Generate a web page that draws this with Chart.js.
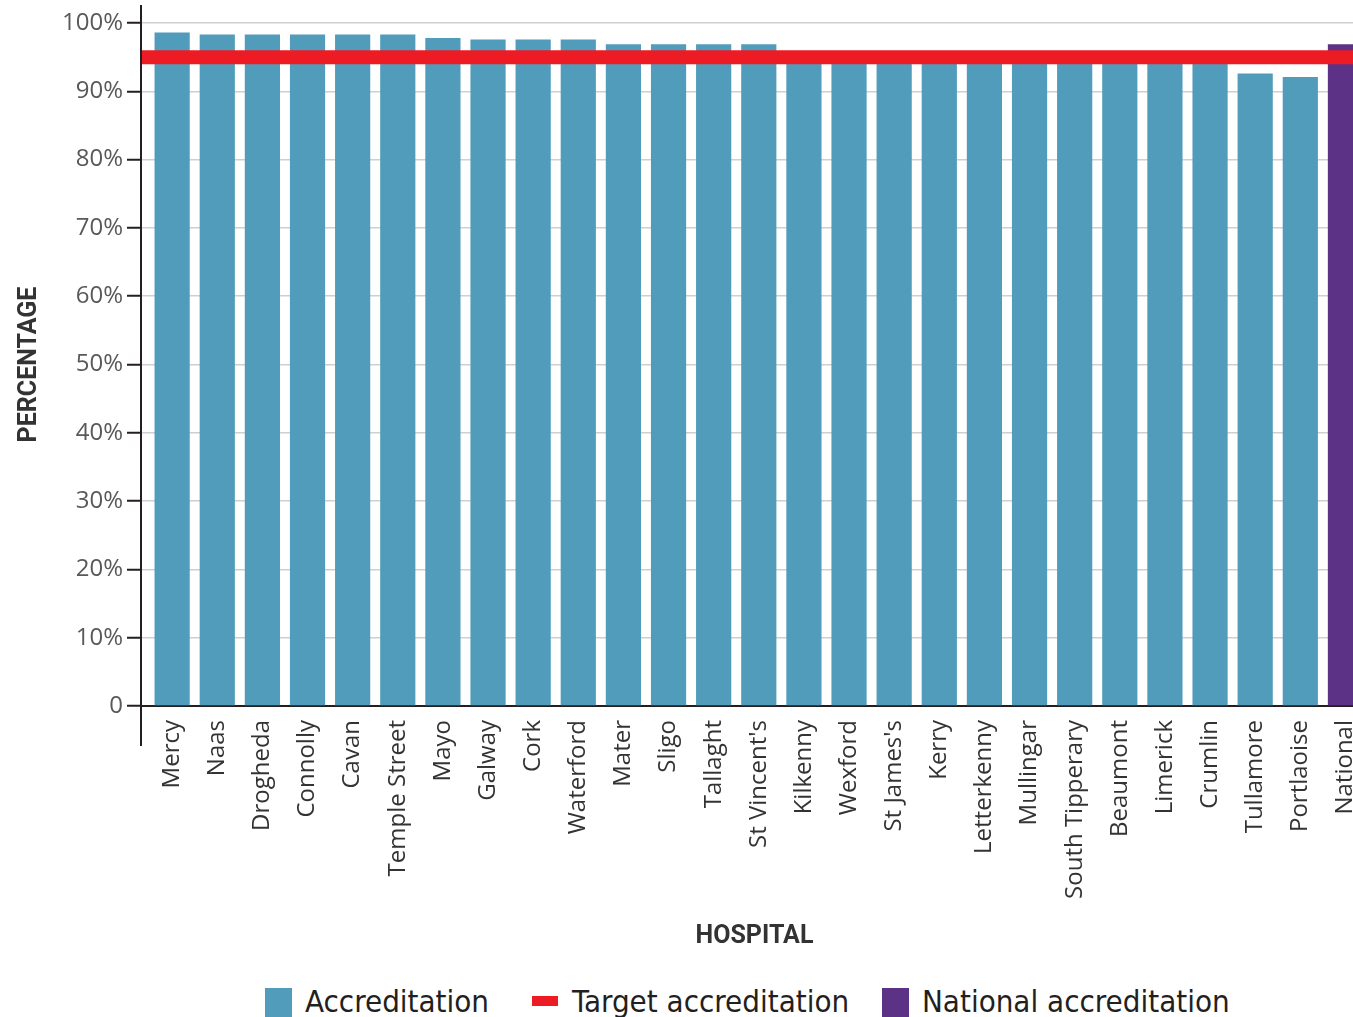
<!DOCTYPE html>
<html>
<head>
<meta charset="utf-8">
<script src="https://cdn.jsdelivr.net/npm/chart.js@4.4.1/dist/chart.umd.min.js"></script>
<style>
  html, body { margin: 0; padding: 0; background: #fff; overflow: hidden; }
  #wrap { position: absolute; left: 0; top: 0; width: 1368px; height: 960px; }
  .leg { position: absolute; top: 984px; height: 34px; font-family: "Liberation Sans Narrow", "DejaVu Sans Condensed", "Roboto", sans-serif; font-size: 31px; color: #231f20; line-height: 34px; white-space: nowrap; }
  .sw { position: absolute; }
</style>
</head>
<body>
<div id="wrap"><canvas id="chart"></canvas></div>
<div class="leg" style="left:265px"><span class="sw" style="left:0;top:4px;width:27px;height:29px;background:#519cba"></span><span style="position:absolute;left:40px">Accreditation</span></div>
<div class="leg" style="left:532px"><span class="sw" style="left:0;top:12px;width:26px;height:10px;background:#ed1c24"></span><span style="position:absolute;left:40px">Target accreditation</span></div>
<div class="leg" style="left:882px"><span class="sw" style="left:0;top:4px;width:27px;height:29px;background:#5b3286"></span><span style="position:absolute;left:40px">National accreditation</span></div>
<script>
"use strict";

// Data ----------------------------------------------------------------------
const HOSPITALS = ["Mercy", "Naas", "Drogheda", "Connolly", "Cavan", "Temple Street",
  "Mayo", "Galway", "Cork", "Waterford", "Mater", "Sligo", "Tallaght", "St Vincent's",
  "Kilkenny", "Wexford", "St James's", "Kerry", "Letterkenny", "Mullingar",
  "South Tipperary", "Beaumont", "Limerick", "Crumlin", "Tullamore", "Portlaoise"];
const ACCREDITATION = [98.6, 98.3, 98.3, 98.3, 98.3, 98.3,
  97.8, 97.6, 97.6, 97.6, 96.9, 96.9, 96.9, 96.9,
  95.9, 95.8, 95.6, 95.5, 95.4, 95.3,
  95.2, 95.1, 95.0, 94.9, 92.6, 92.1];
const NATIONAL_LABEL = "National";
const NATIONAL = 96.9;
const TARGET = 95;
const Y_TICKS = [0, 10, 20, 30, 40, 50, 60, 70, 80, 90, 100];

const labels = [...HOSPITALS, NATIONAL_LABEL];
const hospitalData = ACCREDITATION.map((v, i) => ({ x: i, y: v }));
const nationalData = [{ x: HOSPITALS.length, y: NATIONAL }];

// Axis line runs a little past the plot, like the original ------------------
const axisExtend = {
  id: "axisExtend",
  afterDraw(chart) {
    const { ctx, chartArea } = chart;
    ctx.save();
    ctx.strokeStyle = "#231f20";
    ctx.lineWidth = 2;
    ctx.beginPath();
    ctx.moveTo(chartArea.left, chartArea.top - 18);
    ctx.lineTo(chartArea.left, chartArea.bottom + 40);
    ctx.stroke();
    ctx.restore();
  },
};

const tickFont = { family: "'Open Sans', sans-serif", size: 24 };
const titleFont = { family: "Roboto, sans-serif", size: 25, weight: "bold" };

new Chart(document.getElementById("chart"), {
  type: "bar",
  data: {
    datasets: [
      {
        type: "line",
        label: "Target accreditation",
        xAxisID: "xt",
        data: [{ x: 0, y: TARGET }, { x: 1, y: TARGET }],
        borderColor: "#ed1c24",
        borderWidth: 14,
        borderCapStyle: "butt",
        pointRadius: 0,
        order: 0,
      },
      {
        label: "Accreditation",
        data: hospitalData,
        backgroundColor: "#519cba",
        grouped: false,
        barPercentage: 0.78,
        categoryPercentage: 1,
        order: 1,
      },
      {
        label: "National accreditation",
        data: nationalData,
        backgroundColor: "#5b3286",
        grouped: false,
        barPercentage: 0.78,
        categoryPercentage: 1,
        order: 1,
      },
    ],
  },
  options: {
    responsive: true,
    maintainAspectRatio: false,
    animation: false,
    layout: { padding: { top: 23, left: 0, right: 0, bottom: 0 } },
    plugins: { legend: { display: false }, tooltip: { enabled: false } },
    scales: {
      x: {
        type: "linear",
        offset: false,
        min: -0.69,
        max: labels.length - 0.5,
        afterBuildTicks(scale) { scale.ticks = labels.map((_, i) => ({ value: i })); },
        grid: { display: false, drawTicks: false },
        border: { color: "#231f20", width: 2 },
        ticks: {
          autoSkip: false, minRotation: 90, maxRotation: 90, padding: 14,
          color: "#333", font: tickFont,
          callback: (v) => labels[v],
        },
        title: {
          display: true, text: "HOSPITAL", color: "#333", font: titleFont,
          padding: { top: 0, bottom: 8 },
        },
        afterFit(scale) {
          scale.height = 254;
          scale.paddingLeft = 0;
          scale.paddingRight = 0;
        },
      },
      xt: { type: "linear", display: false, offset: false, min: 0, max: 1 },
      y: {
        min: 0, max: 100,
        afterBuildTicks(scale) { scale.ticks = Y_TICKS.map((v) => ({ value: v })); },
        grid: { color: "#cfcfcf", lineWidth: 1.5, tickLength: 14, tickColor: "#231f20", tickWidth: 2 },
        border: { color: "#231f20", width: 2 },
        ticks: {
          padding: 4, color: "#58595b", font: tickFont,
          callback: (v) => (v === 0 ? "0" : v + "%"),
        },
        title: {
          display: true, text: "PERCENTAGE", color: "#333", font: titleFont,
          padding: { top: 15, bottom: 0 },
        },
        afterFit(scale) { scale.width = 141; },
      },
    },
  },
  plugins: [axisExtend],
});
</script>
</body>
</html>
